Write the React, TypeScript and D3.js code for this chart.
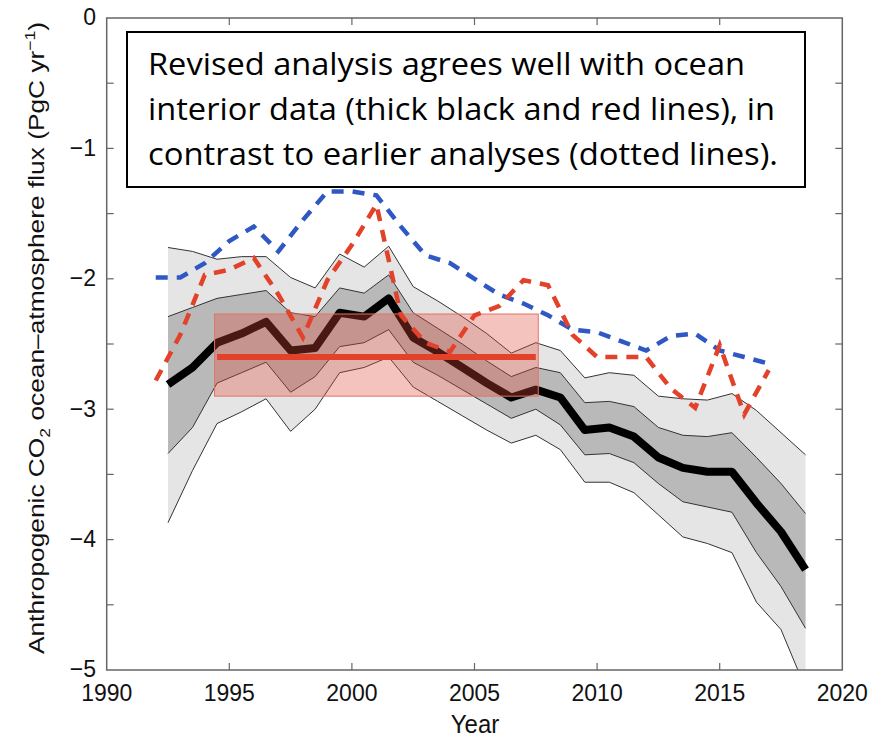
import React from "react";
import * as d3 from "d3";

// Ensemble estimate (mid-year values)
const bandYears = [
  1992.5, 1993.5, 1994.5, 1995.5, 1996.5, 1997.5, 1998.5, 1999.5, 2000.5,
  2001.5, 2002.5, 2003.5, 2004.5, 2005.5, 2006.5, 2007.5, 2008.5, 2009.5,
  2010.5, 2011.5, 2012.5, 2013.5, 2014.5, 2015.5, 2016.5, 2017.5, 2018.5,
];
const meanFlux = [
  -2.81, -2.68, -2.49, -2.42, -2.33, -2.55, -2.53, -2.26, -2.29, -2.15, -2.45,
  -2.56, -2.68, -2.8, -2.91, -2.85, -2.91, -3.16, -3.14, -3.21, -3.37, -3.45,
  -3.48, -3.48, -3.72, -3.94, -4.23,
];
const outerUpper = [
  -1.76, -1.79, -1.85, -1.83, -1.83, -1.99, -2.07, -1.81, -1.91, -1.75, -2.06,
  -2.17, -2.29, -2.42, -2.57, -2.49, -2.55, -2.76, -2.72, -2.74, -2.9, -2.92,
  -2.93, -2.88, -3.01, -3.18, -3.35,
];
const innerUpper = [
  -2.29, -2.22, -2.15, -2.12, -2.09, -2.26, -2.29, -2.07, -2.11, -1.97, -2.26,
  -2.38, -2.5, -2.63, -2.75, -2.68, -2.72, -2.95, -2.94, -2.98, -3.14, -3.2,
  -3.21, -3.18, -3.37, -3.57, -3.8,
];
const innerLower = [
  -3.34, -3.14, -2.8, -2.72, -2.64, -2.87, -2.75, -2.52, -2.49, -2.39, -2.64,
  -2.74, -2.85, -2.96, -3.07, -3.0, -3.12, -3.35, -3.34, -3.41, -3.57, -3.71,
  -3.75, -3.79, -4.1, -4.36, -4.68,
];
const outerLower = [
  -3.87, -3.47, -3.11, -3.02, -2.92, -3.17, -3.0, -2.72, -2.68, -2.6, -2.83,
  -2.94, -3.05, -3.16, -3.26, -3.2, -3.31, -3.56, -3.56, -3.64, -3.81, -3.98,
  -4.03, -4.1, -4.48, -4.69, -5.14,
];

// Earlier analyses (annual values)
const earlierYears = [
  1992, 1993, 1994, 1995, 1996, 1997, 1998, 1999, 2000, 2001, 2002, 2003, 2004,
  2005, 2006, 2007, 2008, 2009, 2010, 2011, 2012, 2013, 2014, 2015, 2016, 2017,
];
const earlierBlue = [
  -1.99, -1.99, -1.88, -1.71, -1.6, -1.79, -1.55, -1.33, -1.33, -1.36, -1.6,
  -1.82, -1.88, -2.0, -2.12, -2.19, -2.28, -2.39, -2.41, -2.48, -2.55, -2.44,
  -2.42, -2.55, -2.6, -2.65,
];
const earlierRed = [
  -2.78, -2.43, -1.97, -1.93, -1.84, -2.12, -2.45, -2.01, -1.74, -1.43, -2.28,
  -2.49, -2.56, -2.28, -2.21, -2.01, -2.05, -2.43, -2.6, -2.6, -2.6, -2.84,
  -2.99, -2.51, -3.04, -2.7,
];

// Ocean interior estimate: period and mean with uncertainty range
const interiorPeriod = [1994.4, 2007.6];
const interiorLinePeriod = [1994.5, 2007.5];
const interiorMean = -2.6;
const interiorRange = [-2.9, -2.27];

const xTicks = [1990, 1995, 2000, 2005, 2010, 2015, 2020];
const yTicks = [0, -0.5, -1, -1.5, -2, -2.5, -3, -3.5, -4, -4.5, -5];
const yTickLabels = [0, -1, -2, -3, -4, -5];

const noteLines = [
  "Revised analysis agrees well with ocean",
  "interior data (thick black and red lines), in",
  "contrast to earlier analyses (dotted lines).",
];
const noteWidths = [597, 627, 630];

const W = 878;
const H = 739;
const AXIS_FONT = "'Liberation Sans', Arial, Helvetica, sans-serif";

export default function App() {
  const x = d3.scaleLinear().domain([1990, 2020]).range([106.7, 842.3]);
  const y = d3.scaleLinear().domain([-5, 0]).range([670, 18]);
  const [x0, x1] = x.range();
  const [yb, yt] = y.range();

  const band = (lo: number[], hi: number[]) =>
    d3
      .area<number>()
      .x((_, i) => x(bandYears[i]))
      .y0((_, i) => y(lo[i]))
      .y1((_, i) => y(hi[i]))(bandYears) || "";

  const bandLine = (vals: number[]) =>
    d3
      .line<number>()
      .x((_, i) => x(bandYears[i]))
      .y((d) => y(d))(vals) || "";

  const earlierLine = (vals: number[]) =>
    d3
      .line<number>()
      .x((_, i) => x(earlierYears[i]))
      .y((d) => y(d))(vals) || "";

  const fmt = d3.format("d");

  return (
    <div style={{ position: "fixed", left: 0, top: 0, background: "#fff" }}>
      <svg width={W} height={H} viewBox={`0 0 ${W} ${H}`}>
        <defs>
          <clipPath id="plot-area">
            <rect x={x0} y={yt} width={x1 - x0} height={yb - yt} />
          </clipPath>
        </defs>
        <rect x={0} y={0} width={W} height={H} fill="#fff" />

        <g clipPath="url(#plot-area)">
          <path d={band(outerLower, outerUpper)} fill="#e5e5e5" />
          <path d={band(innerLower, innerUpper)} fill="#b9b9b9" />
          {[outerUpper, innerUpper, innerLower, outerLower].map((v, i) => (
            <path
              key={i}
              d={bandLine(v)}
              fill="none"
              stroke="#333"
              strokeWidth={1}
            />
          ))}
          <path
            d={bandLine(meanFlux)}
            fill="none"
            stroke="#000"
            strokeWidth={8}
            strokeLinejoin="round"
          />

          <rect
            x={x(interiorPeriod[0])}
            y={y(interiorRange[1])}
            width={x(interiorPeriod[1]) - x(interiorPeriod[0])}
            height={y(interiorRange[0]) - y(interiorRange[1])}
            fill="#e24a36"
            fillOpacity={0.33}
            stroke="#e07565"
            strokeWidth={1}
          />
          <line
            x1={x(interiorLinePeriod[0])}
            x2={x(interiorLinePeriod[1])}
            y1={y(interiorMean)}
            y2={y(interiorMean)}
            stroke="#e2412a"
            strokeWidth={6}
          />

          <path
            d={earlierLine(earlierBlue)}
            fill="none"
            stroke="#2f58c4"
            strokeWidth={4.5}
            strokeDasharray="12 9"
          />
          <path
            d={earlierLine(earlierRed)}
            fill="none"
            stroke="#e2412a"
            strokeWidth={4.5}
            strokeDasharray="12 9"
          />
        </g>

        {/* axes frame */}
        <rect
          x={x0}
          y={yt}
          width={x1 - x0}
          height={yb - yt}
          fill="none"
          stroke="#666"
          strokeWidth={1.5}
        />
        {xTicks.slice(1, -1).map((t) => (
          <g key={`xt${t}`} stroke="#666" strokeWidth={1.2}>
            <line x1={x(t)} x2={x(t)} y1={yb} y2={yb - 7} />
            <line x1={x(t)} x2={x(t)} y1={yt} y2={yt + 7} />
          </g>
        ))}
        {yTicks.slice(1, -1).map((t) => (
          <g key={`yt${t}`} stroke="#666" strokeWidth={1.2}>
            <line x1={x0} x2={x0 + 7} y1={y(t)} y2={y(t)} />
            <line x1={x1} x2={x1 - 7} y1={y(t)} y2={y(t)} />
          </g>
        ))}

        <g fontFamily={AXIS_FONT} fontSize={23} fill="#111">
          {xTicks.map((t) => (
            <text
              key={`xl${t}`}
              transform={`translate(${x(t)}, 701) scale(1, 1.08)`}
              textAnchor="middle"
            >
              {fmt(t)}
            </text>
          ))}
          {yTickLabels.map((t) => (
            <text
              key={`yl${t}`}
              transform={`translate(96, ${y(t) - 1}) scale(1, 1.04)`}
              dy="0.35em"
              textAnchor="end"
            >
              {t === 0 ? "0" : `\u2212${Math.abs(t)}`}
            </text>
          ))}
          <text
            transform="translate(475, 733) scale(1, 1.1)"
            textAnchor="middle"
            fontSize={24}
          >
            Year
          </text>
          <text
            transform="translate(44, 338) rotate(-90) scale(1.17, 1)"
            textAnchor="middle"
            fontSize={22.5}
          >
            Anthropogenic CO
            <tspan fontSize={15} dy={6}>
              2
            </tspan>
            <tspan dy={-6}> ocean–atmosphere flux (PgC yr</tspan>
            <tspan fontSize={15} dy={-9}>
              −1
            </tspan>
            <tspan dy={9}>)</tspan>
          </text>
        </g>

        {/* annotation box */}
        <rect
          x={127}
          y={32}
          width={678}
          height={155}
          fill="#fff"
          stroke="#000"
          strokeWidth={2}
        />
        <g fontFamily="'Open Sans', Lato, sans-serif" fontSize={30.5} fill="#000">
          {noteLines.map((s, i) => (
            <text
              key={i}
              x={148}
              y={75 + i * 45}
              textLength={noteWidths[i]}
              lengthAdjust="spacingAndGlyphs"
            >
              {s}
            </text>
          ))}
        </g>
      </svg>
    </div>
  );
}
